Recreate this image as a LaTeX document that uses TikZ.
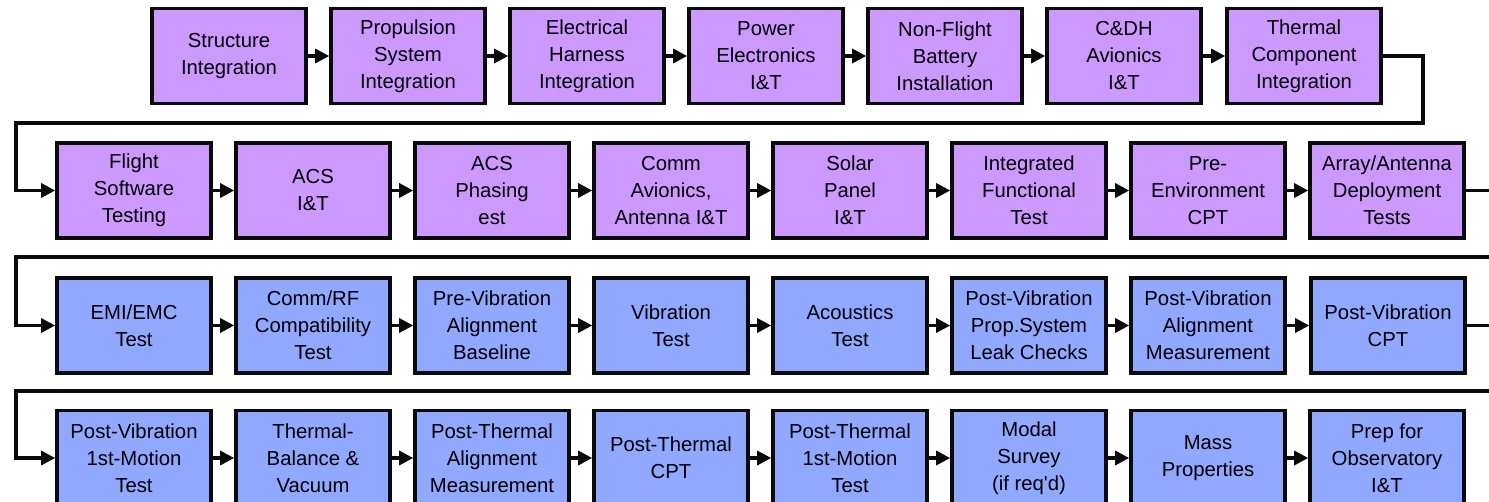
\documentclass[tikz,border=0pt]{standalone}
\usepackage{fontspec}
\newfontfamily\lsans{Liberation Sans}
\usetikzlibrary{arrows.meta}
\definecolor{purplefill}{RGB}{204,153,255}
\definecolor{bluefill}{RGB}{145,168,255}
\definecolor{edgeblack}{RGB}{10,10,10}
\tikzset{
  stepbox/.style={draw=edgeblack, line width=3.6bp, minimum width=154bp, minimum height=95bp,
    inner sep=0pt, align=center, font=\lsans\fontsize{20.3bp}{27bp}\selectfont},
  pbox/.style={stepbox, fill=purplefill},
  bbox/.style={stepbox, fill=bluefill},
  conn/.style={draw=edgeblack, line width=3.2bp, -{Triangle[length=14bp,width=14bp]}},
  plainline/.style={draw=edgeblack, line width=3.2bp}
}
\begin{document}
\begin{tikzpicture}[x=1bp,y=-1bp]
\useasboundingbox (0,0) rectangle (1489,502);
\clip (0,0) rectangle (1489,502);
% Row 1
\node[pbox] (a1) at (229,56) {Structure\\Integration};
\node[pbox] (a2) at (408,56) {Propulsion\\System\\Integration};
\node[pbox] (a3) at (587,56) {Electrical\\Harness\\Integration};
\node[pbox] (a4) at (766,56) {Power\\Electronics\\I\&T};
\node[pbox] (a5) at (945,56) {Non-Flight\\Battery\\Installation};
\node[pbox] (a6) at (1124,56) {C\&DH\\Avionics\\I\&T};
\node[pbox] (a7) at (1304,56) {Thermal\\Component\\Integration};
% Row 2
\node[pbox] (b1) at (134,190.5) {Flight\\Software\\Testing};
\node[pbox] (b2) at (313,190.5) {ACS\\I\&T};
\node[pbox] (b3) at (492,190.5) {ACS\\Phasing\\est};
\node[pbox] (b4) at (671,190.5) {Comm\\Avionics,\\Antenna I\&T};
\node[pbox] (b5) at (850,190.5) {Solar\\Panel\\I\&T};
\node[pbox] (b6) at (1029,190.5) {Integrated\\Functional\\Test};
\node[pbox] (b7) at (1208,190.5) {Pre-\\Environment\\CPT};
\node[pbox] (b8) at (1387,190.5) {Array/Antenna\\Deployment\\Tests};
% Row 3
\node[bbox] (c1) at (134,325.5) {EMI/EMC\\Test};
\node[bbox] (c2) at (313,325.5) {Comm/RF\\Compatibility\\Test};
\node[bbox] (c3) at (492,325.5) {Pre-Vibration\\Alignment\\Baseline};
\node[bbox] (c4) at (671,325.5) {Vibration\\Test};
\node[bbox] (c5) at (850,325.5) {Acoustics\\Test};
\node[bbox] (c6) at (1029,325.5) {Post-Vibration\\Prop.System\\Leak Checks};
\node[bbox] (c7) at (1208,325.5) {Post-Vibration\\Alignment\\Measurement};
\node[bbox] (c8) at (1388,325.5) {Post-Vibration\\CPT};
% Row 4
\node[bbox] (d1) at (134,458) {Post-Vibration\\1st-Motion\\Test};
\node[bbox] (d2) at (313,458) {Thermal-\\Balance \&\\Vacuum};
\node[bbox] (d3) at (492,458) {Post-Thermal\\Alignment\\Measurement};
\node[bbox] (d4) at (671,458) {Post-Thermal\\CPT};
\node[bbox] (d5) at (850,458) {Post-Thermal\\1st-Motion\\Test};
\node[bbox] (d6) at (1029,458) {Modal\\Survey\\(if req'd)};
\node[bbox] (d7) at (1208,458) {Mass\\Properties};
\node[bbox] (d8) at (1387,458) {Prep for\\Observatory\\I\&T};
% helper coordinates
\coordinate (r1) at (1423,123);
\coordinate (l1) at (16,123);
\coordinate (e2) at (1500,190.5);
\coordinate (e3) at (1500,257);
\coordinate (l3) at (16,257);
\coordinate (e4) at (1500,325.5);
\coordinate (e5) at (1500,391);
\coordinate (l5) at (16,391);
% row connectors
\foreach \r in {a,b,c,d}{
  \foreach \i [evaluate=\i as \j using int(\i+1)] in {1,...,6}{
    \draw[conn] (\r\i.east) -- (\r\j.west);
  }
}
\draw[conn] (b7.east) -- (b8.west);
\draw[conn] (c7.east) -- (c8.west);
\draw[conn] (d7.east) -- (d8.west);
% wrap-around connectors
\draw[conn] (a7.east) -| (r1) -- (l1) |- (b1.west);
\draw[plainline] (b8.east) -- (e2);
\draw[conn] (e3) -- (l3) |- (c1.west);
\draw[plainline] (c8.east) -- (e4);
\draw[conn] (e5) -- (l5) |- (d1.west);
\end{tikzpicture}
\end{document}
